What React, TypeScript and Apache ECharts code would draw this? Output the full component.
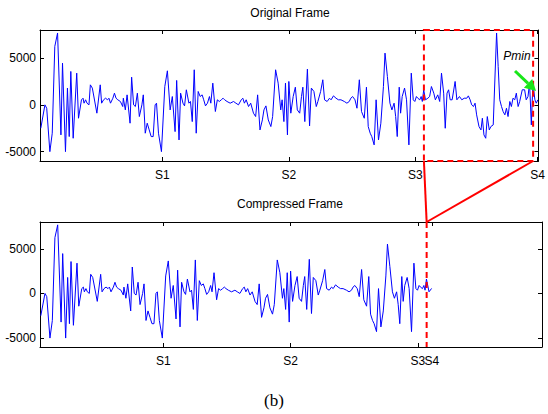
import React, { useEffect, useRef } from "react";
import * as echarts from "echarts";

// sample positions of the read-off points (sample index)
const sampleIdx = [
  2.4, 4.5, 5.4, 7.0, 8.2, 9.5, 10.9, 12.6, 13.4, 14.9,
  15.9, 16.8, 17.6, 18.8, 20.6, 21.5, 23.0, 23.8, 24.3, 25.1,
  25.8, 26.8, 27.5, 28.5, 30.8, 32.5, 33.2, 34.2, 35.2, 36.2,
  36.9, 37.7, 38.9, 39.7, 40.5, 41.4, 42.7, 43.9, 44.2, 45.2,
  46.1, 47.6, 48.4, 49.4, 50.3, 51.3, 52.3, 53.6, 54.3, 55.3,
  56.3, 57.3, 58.3, 59.3, 60.3, 61.0, 62.0, 63.5, 65.2, 66.5,
  67.9, 69.0, 70.4, 71.2, 72.4, 73.2, 74.4, 75.2, 76.1, 77.4,
  78.2, 79.1, 80.1, 81.1, 82.1, 83.1, 84.1, 84.9, 85.8, 86.8,
  87.8, 88.5, 89.5, 90.8, 91.8, 92.8, 93.8, 94.7, 95.5, 96.7,
  98.3, 100.0, 101.2, 102.5, 103.9, 104.7, 105.5, 106.4, 107.6, 108.7,
  110.1, 111.2, 112.2, 113.4, 114.6, 115.4, 116.4, 117.6, 118.9, 119.8,
  121.3, 122.6, 123.9, 124.6, 125.5, 126.3, 127.3, 128.0, 129.0, 130.2,
  131.3, 132.3, 133.5, 134.4, 135.1, 136.1, 137.4, 138.5, 139.4, 140.7,
  141.9, 142.7, 144.1, 145.2, 146.1, 147.4, 148.6, 149.4, 150.6, 151.9,
  153.1, 154.4, 156.1, 157.4, 158.6, 159.4, 160.3, 161.5, 162.5, 163.7,
  164.8, 166.2, 167.3, 168.2, 169.2, 170.0, 171.2, 172.2, 173.4, 174.6,
  175.9, 176.7, 177.9, 179.2, 180.2, 181.3, 182.1, 182.9, 183.9, 184.6,
  185.4, 186.6, 187.6, 188.8, 190.0, 191.0, 191.8, 192.6, 193.3, 194.3,
  195.0, 195.6, 196.3, 197.2, 198.4, 199.3, 200.2, 201.4, 202.2, 203.4,
  204.4, 205.3, 206.4, 207.2, 208.1, 208.9, 209.7, 210.7, 212.2, 213.1,
  214.4, 215.6, 216.8, 218.1, 218.9, 219.8, 220.6, 221.5, 222.3, 223.1,
  224.3, 225.3, 226.0, 226.8, 227.7, 228.5, 229.5, 230.3, 231.5, 233.2,
  234.0, 234.8, 235.7, 236.5, 237.4, 238.2, 239.0, 239.9, 240.7, 241.5,
  242.4, 243.2, 244.1, 244.9, 246.2, 247.4, 248.2, 249.1, 249.9, 250.8,
  251.6, 252.6, 253.3, 254.1,
];

// amplitude of the original frame at those samples
const amplitude = [
  -2500, 0, -360, -5000, -3030, 6250, 7680, -3210, 4460, -5000,
  1790, -3390, 3570, -3570, 3390, -1430, 540, 710, 180, 540,
  180, 0, 2140, 1790, -890, 2140, 180, 540, 710, 540,
  710, 180, 710, 1250, 710, 540, 360, -180, 710, -540,
  1070, -1960, 2960, 0, -180, 1250, -1250, 0, 1070, -3030,
  -1960, -2680, -3390, -3390, 0, 180, -3030, -5000, 1960, 3640,
  -540, 890, -2860, 2610, -3750, 1250, 180, -110, 1610, 180,
  360, -1790, 3750, -3030, 1430, 890, 1070, 540, -110, 180,
  890, 180, 2320, -710, 540, 360, 540, 710, 540, 360,
  180, 360, 180, 0, 540, 710, 180, 540, -180, 180,
  -890, -1250, 1070, -2680, -1610, -540, -110, -1610, -2320, -1250,
  3750, 2320, -540, 540, -1790, 2320, -3210, 2500, -890, 890,
  1890, -540, -890, 890, 1890, -1790, 3820, -2250, 1790, 1430,
  -180, 360, 1430, 2680, 540, 360, 710, 540, 960, 710,
  540, 540, 360, 180, 360, 710, 890, 540, -360, 2680,
  -710, -1430, 1890, -2320, -3030, -3390, -4280, 540, -3750, -1960,
  1960, 5530, 3030, 180, -540, 180, -1250, -3390, 1890, -890,
  890, 1790, 540, -4280, 3390, 540, 360, 890, 710, 540,
  890, 360, 1610, 540, 710, 890, 1960, 1250, 540, 1070,
  360, 3390, 1250, -2500, 1250, 1610, 540, 540, 2500, 540,
  890, 540, 710, 710, 960, 540, 0, -180, 180, -1070,
  -2320, -2680, -1430, -3210, -3570, -1250, -2680, -2320, -2140, 7680,
  4110, 540, -180, -710, -1070, -360, -1250, 360, -180, 710,
  540, 1250, -180, 360, 1610, 1610, 540, 890, 2320, -2140,
  2320, 540, 180, 540,
];

// compressed frame: original up to the cut, then the compressed tail
const compressedCutSample = 196.3;
const compressedTailIdx = [197.6, 198.9];
const compressedTailAmp = [180, 560];

const yTicks = [-5000, 0, 5000];
const topTickSamples = [64, 128, 192, 254];
const bottomTickSamples = [64, 128, 192, 199];
const tickNames = ["S1", "S2", "S3", "S4"];
const boxSamples = [196.4, 251.7];
const X_MIN = 2;
const X_MAX = 254.4;
const Y_MIN = -6000;
const Y_MAX = 8000;

const FONT = "'Liberation Sans', Arial, Helvetica, sans-serif";
const FS = 12;

export default function App() {
  const ref = useRef<HTMLDivElement>(null);
  useEffect(() => {
    const chart = echarts.init(ref.current!, null, { renderer: "svg" });

    const lineStyle = { color: "#000", width: 1 };
    const makeX = (grid: number, ticks: number[], pos: "bottom" | "top") => ({
      type: "value",
      gridIndex: grid,
      min: X_MIN,
      max: X_MAX,
      position: pos,
      axisLine: { show: true, onZero: false, lineStyle },
      axisTick: { show: true, inside: true, length: 4, customValues: ticks, lineStyle },
      axisLabel: {
        show: pos === "bottom",
        customValues: ticks,
        hideOverlap: false,
        formatter: (v: number) => {
          const i = ticks.indexOf(v);
          return i >= 0 ? tickNames[i] : "";
        },
        margin: 8,
        color: "#000",
        fontSize: FS,
        fontFamily: FONT,
      },
      splitLine: { show: false },
    });
    const makeY = (grid: number, pos: "left" | "right") => ({
      type: "value",
      gridIndex: grid,
      min: Y_MIN,
      max: Y_MAX,
      position: pos,
      axisLine: { show: true, onZero: false, lineStyle },
      axisTick: { show: true, inside: true, length: 4, customValues: yTicks, lineStyle },
      axisLabel: {
        show: pos === "left",
        customValues: yTicks,
        hideOverlap: false,
        formatter: (v: number) => String(v),
        margin: 4,
        color: "#000",
        fontSize: FS,
        fontFamily: FONT,
      },
      splitLine: { show: false },
    });

    const originalData = sampleIdx.map((s, i) => [s, amplitude[i]]);
    const compressedData = sampleIdx
      .map((s, i) => [s, amplitude[i]])
      .filter((p) => p[0] <= compressedCutSample)
      .concat(compressedTailIdx.map((s, i) => [s, compressedTailAmp[i]]));

    chart.setOption({
      animation: false,
      grid: [
        { left: 40, top: 30, right: 6, height: 131 },
        { left: 40, top: 222, right: 6, height: 125 },
      ],
      xAxis: [
        makeX(0, topTickSamples, "bottom"),
        makeX(0, topTickSamples, "top"),
        makeX(1, bottomTickSamples, "bottom"),
        makeX(1, bottomTickSamples, "top"),
      ],
      yAxis: [makeY(0, "left"), makeY(0, "right"), makeY(1, "left"), makeY(1, "right")],
      series: [
        {
          type: "line",
          xAxisIndex: 0,
          yAxisIndex: 0,
          data: originalData,
          showSymbol: false,
          lineStyle: { color: "#0000ff", width: 1 },
          z: 3,
        },
        {
          type: "line",
          xAxisIndex: 2,
          yAxisIndex: 2,
          data: compressedData,
          showSymbol: false,
          lineStyle: { color: "#0000ff", width: 1 },
          z: 3,
        },
      ],
    });

    const px = (xi: number, yi: number, pt: number[]) =>
      chart.convertToPixel({ xAxisIndex: xi, yAxisIndex: yi } as any, pt) as number[];
    const bl = px(0, 0, [boxSamples[0], Y_MIN]);
    const tr = px(0, 0, [boxSamples[1], Y_MAX]);
    const br = px(0, 0, [boxSamples[1], Y_MIN]);
    const bt = px(2, 2, [boxSamples[0], Y_MAX]);
    const bb = px(2, 2, [boxSamples[0], Y_MIN]);
    const s4b = px(2, 2, [bottomTickSamples[3], Y_MIN]);

    const red = "#ff0000";
    const green = "#19e619";
    // arrow geometry
    const a0 = [515, 71];
    const tip = [536, 91];
    const dx = tip[0] - a0[0];
    const dy = tip[1] - a0[1];
    const len = Math.sqrt(dx * dx + dy * dy);
    const ux = dx / len;
    const uy = dy / len;
    const hl = 11;
    const hw = 6;
    const bc = [tip[0] - ux * hl, tip[1] - uy * hl];

    chart.setOption({
      graphic: [
        {
          type: "text",
          x: 290,
          y: 13,
          style: { text: "Original Frame", font: `${FS}px ${FONT}`, fill: "#000", align: "center", verticalAlign: "middle" },
        },
        {
          type: "text",
          x: 290,
          y: 204,
          style: { text: "Compressed Frame", font: `${FS}px ${FONT}`, fill: "#000", align: "center", verticalAlign: "middle" },
        },
        {
          type: "text",
          x: s4b[0],
          y: s4b[1] + 8,
          style: { text: tickNames[3], font: `${FS}px ${FONT}`, fill: "#000", align: "center", verticalAlign: "top" },
        },
        {
          type: "text",
          x: 274,
          y: 400,
          style: { text: "(b)", font: "17px 'Liberation Serif', 'Times New Roman', serif", fill: "#000", align: "center", verticalAlign: "middle" },
        },
        {
          type: "rect",
          z: 10,
          shape: { x: bl[0], y: tr[1], width: tr[0] - bl[0], height: bl[1] - tr[1] },
          style: { fill: "none", stroke: red, lineWidth: 2, lineDash: [6, 4] },
        },
        {
          type: "line",
          z: 10,
          shape: { x1: bl[0], y1: bl[1], x2: bt[0], y2: bt[1] },
          style: { stroke: red, lineWidth: 2 },
        },
        {
          type: "line",
          z: 10,
          shape: { x1: br[0], y1: br[1], x2: bt[0], y2: bt[1] },
          style: { stroke: red, lineWidth: 2 },
        },
        {
          type: "line",
          z: 10,
          shape: { x1: bt[0], y1: bt[1], x2: bb[0], y2: bb[1] },
          style: { stroke: red, lineWidth: 2, lineDash: [6, 4] },
        },
        {
          type: "line",
          z: 11,
          shape: { x1: a0[0], y1: a0[1], x2: bc[0], y2: bc[1] },
          style: { stroke: green, lineWidth: 3 },
        },
        {
          type: "polygon",
          z: 11,
          shape: {
            points: [
              tip,
              [bc[0] - uy * hw, bc[1] + ux * hw],
              [bc[0] + uy * hw, bc[1] - ux * hw],
            ],
          },
          style: { fill: green },
        },
        {
          type: "text",
          z: 11,
          x: 517,
          y: 56,
          style: { text: "Pmin", font: `italic ${FS}px ${FONT}`, fill: "#000", align: "center", verticalAlign: "middle" },
        },
      ],
    });

    return () => chart.dispose();
  }, []);
  return (
    <div
      ref={ref}
      style={{ width: 548, height: 414, position: "absolute", left: 0, top: 0, background: "#fff" }}
    />
  );
}
